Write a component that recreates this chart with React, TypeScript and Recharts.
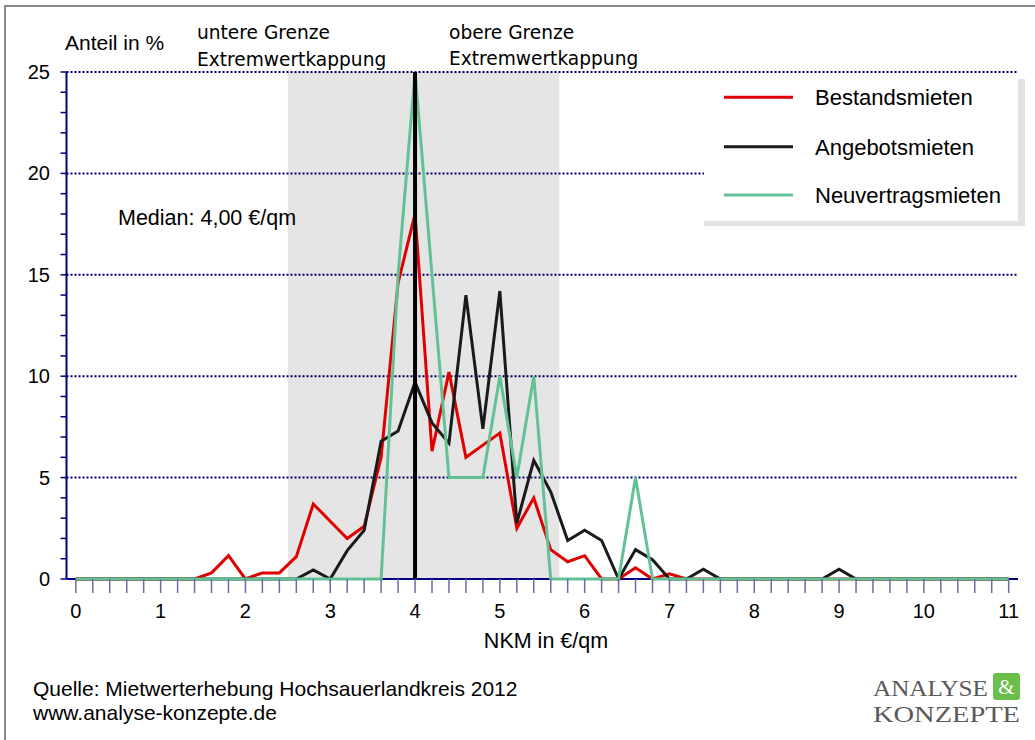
import React from 'react';
import { ComposedChart, Line, XAxis, YAxis, ReferenceLine, ReferenceArea, Legend } from 'recharts';

const xValues = [0, 0.2, 0.4, 0.6, 0.8, 1, 1.2, 1.4, 1.6, 1.8, 2, 2.2, 2.4, 2.6, 2.8, 3, 3.2, 3.4, 3.6, 3.8, 4, 4.2, 4.4, 4.6, 4.8, 5, 5.2, 5.4, 5.6, 5.8, 6, 6.2, 6.4, 6.6, 6.8, 7, 7.2, 7.4, 7.6, 7.8, 8, 8.2, 8.4, 8.6, 8.8, 9, 9.2, 9.4, 9.6, 9.8, 10, 10.2, 10.4, 10.6, 10.8, 11];

const bestandsmieten = [0, 0, 0, 0, 0, 0, 0, 0, 0.3, 1.15, 0, 0.3, 0.3, 1.1, 3.7, 2.85, 2.0, 2.6, 6.0, 14.6, 18.0, 6.3, 10.2, 6.0, 6.6, 7.2, 2.5, 4.0, 1.45, 0.85, 1.15, 0, 0, 0.55, 0, 0.25, 0, 0, 0, 0, 0, 0, 0, 0, 0, 0, 0, 0, 0, 0, 0, 0, 0, 0, 0, 0];
const angebotsmieten = [0, 0, 0, 0, 0, 0, 0, 0, 0, 0, 0, 0, 0, 0, 0.45, 0, 1.4, 2.4, 6.8, 7.3, 9.7, 7.7, 6.7, 14.0, 7.4, 14.2, 2.75, 5.85, 4.3, 1.9, 2.4, 1.9, 0, 1.45, 0.95, 0, 0, 0.48, 0, 0, 0, 0, 0, 0, 0, 0.48, 0, 0, 0, 0, 0, 0, 0, 0, 0, 0];
const neuvertragsmieten = [0, 0, 0, 0, 0, 0, 0, 0, 0, 0, 0, 0, 0, 0, 0, 0, 0, 0, 0, 15, 25, 15, 5, 5, 5, 10, 5, 10, 0, 0, 0, 0, 0, 5, 0, 0, 0, 0, 0, 0, 0, 0, 0, 0, 0, 0, 0, 0, 0, 0, 0, 0, 0, 0, 0, 0];

const yTicks = [0, 1, 2, 3, 4, 5, 6, 7, 8, 9, 10, 11, 12, 13, 14, 15, 16, 17, 18, 19, 20, 21, 22, 23, 24, 25];
const gridValues = [5, 10, 15, 20, 25];

const seriesKeys = ['best', 'ang', 'neu'];
const seriesNames = ['Bestandsmieten', 'Angebotsmieten', 'Neuvertragsmieten'];
const seriesColors = ['#e00000', '#1a1a1a', '#63c295'];

const medianValue = 4;
const medianText = 'Median: 4,00 €/qm';
const capLower = 2.5;
const capUpper = 5.7;

const data = xValues.map((x, i) => ({
  x,
  best: bestandsmieten[i],
  ang: angebotsmieten[i],
  neu: neuvertragsmieten[i],
}));

const FONT = 'Liberation Sans, Arial, sans-serif';

const XTick = (props: any) => {
  const { x, y, payload } = props;
  const v = payload.value;
  if (Math.abs(v - Math.round(v)) > 1e-6) return null;
  return (
    <text x={x} y={y + 25} textAnchor="middle" fontFamily={FONT} fontSize={20} fill="#000">
      {Math.round(v)}
    </text>
  );
};

const YTick = (props: any) => {
  const { y, payload } = props;
  const v = payload.value;
  if (v % 5 !== 0) return null;
  return (
    <text x={50} y={y + 7} textAnchor="end" fontFamily={FONT} fontSize={20} fill="#000">
      {v}
    </text>
  );
};

const renderLegend = () => {
  const ys = [23.3, 72.7, 121];
  return (
    <svg width={326} height={156} style={{ display: 'block' }}>
      <rect x={0} y={5} width={321} height={147} fill="#e3e3e3" />
      <rect x={0} y={0} width={314} height={147} fill="#ffffff" />
      {seriesNames.map((n, i) => (
        <g key={n}>
          <line x1={20} x2={89} y1={ys[i]} y2={ys[i]} stroke={seriesColors[i]} strokeWidth={3} />
          <text x={111} y={ys[i] + 8} fontFamily={FONT} fontSize={22} fill="#000">
            {n}
          </text>
        </g>
      ))}
    </svg>
  );
};

const MedianLabel = () => (
  <text x={118} y={225} fontFamily={FONT} fontSize={21.5} fill="#000">
    {medianText}
  </text>
);

export default function App() {
  return (
    <div style={{ position: 'absolute', left: 0, top: 0, width: 1035, height: 740, background: '#fff' }}>
      <ComposedChart
        width={1035}
        height={740}
        data={data}
        margin={{ top: 72, right: 17, bottom: 121, left: 0 }}
      >
        <rect x={5} y={6} width={1040} height={740} fill="none" stroke="#8a8a8a" strokeWidth={2} />
        <ReferenceArea x1={capLower} x2={capUpper} y1={0} y2={25} fill="#e5e5e5" fillOpacity={1} stroke="none" ifOverflow="visible" />
        {gridValues.map((g) => (
          <ReferenceLine key={g} y={g} stroke="#000060" strokeWidth={2} strokeDasharray="2 2" ifOverflow="visible" />
        ))}
        <ReferenceLine y={0} stroke="#000080" strokeWidth={2} ifOverflow="visible" />
        <XAxis
          dataKey="x"
          type="number"
          domain={[-0.11, 11.11]}
          allowDataOverflow
          ticks={xValues}
          interval={0}
          height={40}
          tickSize={14}
          tickMargin={0}
          tick={<XTick />}
          tickLine={{ stroke: '#6a6aa8', strokeWidth: 1.5 }}
          axisLine={false}
        />
        <YAxis
          type="number"
          domain={[0, 25]}
          ticks={yTicks}
          interval={0}
          width={66.5}
          tickSize={6}
          tickMargin={4}
          tick={<YTick />}
          tickLine={{ stroke: '#000080', strokeWidth: 1.5 }}
          axisLine={{ stroke: '#000080', strokeWidth: 2 }}
        />
        {seriesKeys.map((k, i) => (
          <Line
            key={k}
            type="linear"
            dataKey={k}
            name={seriesNames[i]}
            stroke={seriesColors[i]}
            strokeWidth={3}
            dot={false}
            activeDot={false}
            isAnimationActive={false}
          />
        ))}
        <ReferenceLine
          segment={[{ x: medianValue, y: 0 }, { x: medianValue, y: 25 }]}
          stroke="#000"
          strokeWidth={4}
          ifOverflow="visible"
          label={{ content: MedianLabel }}
        />
        <Legend
          layout="vertical"
          align="center"
          verticalAlign="middle"
          content={renderLegend}
          wrapperStyle={{ position: 'absolute', left: 704, top: 74, width: 326, height: 156 }}
        />
        <text x={65} y={50} fontFamily={FONT} fontSize={21} fill="#000">Anteil in %</text>
        <text x={197} y={39} fontFamily="DejaVu Sans, sans-serif" fontSize={18.6} fill="#000">untere Grenze</text>
        <text x={197} y={65.5} fontFamily="DejaVu Sans, sans-serif" fontSize={18.6} fill="#000">Extremwertkappung</text>
        <text x={449} y={38.5} fontFamily="DejaVu Sans, sans-serif" fontSize={18.6} fill="#000">obere Grenze</text>
        <text x={449} y={65} fontFamily="DejaVu Sans, sans-serif" fontSize={18.6} fill="#000">Extremwertkappung</text>
        <text x={546} y={648} textAnchor="middle" fontFamily={FONT} fontSize={21.5} fill="#000">NKM in €/qm</text>
        <text x={33} y={696} fontFamily={FONT} fontSize={21} fill="#000">Quelle: Mietwerterhebung Hochsauerlandkreis 2012</text>
        <text x={33} y={720} fontFamily={FONT} fontSize={21} fill="#000">www.analyse-konzepte.de</text>
        <text x={873} y={696} fontFamily="Liberation Serif, serif" fontSize={23} fill="#5a5a5a" textLength={115} lengthAdjust="spacingAndGlyphs">ANALYSE</text>
        <rect x={993} y={673} width={27} height={27} rx={3} fill="#6abf4b" />
        <text x={1006.5} y={694} textAnchor="middle" fontFamily="Liberation Serif, serif" fontSize={21} fill="#fff">&amp;</text>
        <text x={873} y={722} fontFamily="Liberation Serif, serif" fontSize={23} fill="#5a5a5a" textLength={147} lengthAdjust="spacingAndGlyphs">KONZEPTE</text>
      </ComposedChart>
    </div>
  );
}
